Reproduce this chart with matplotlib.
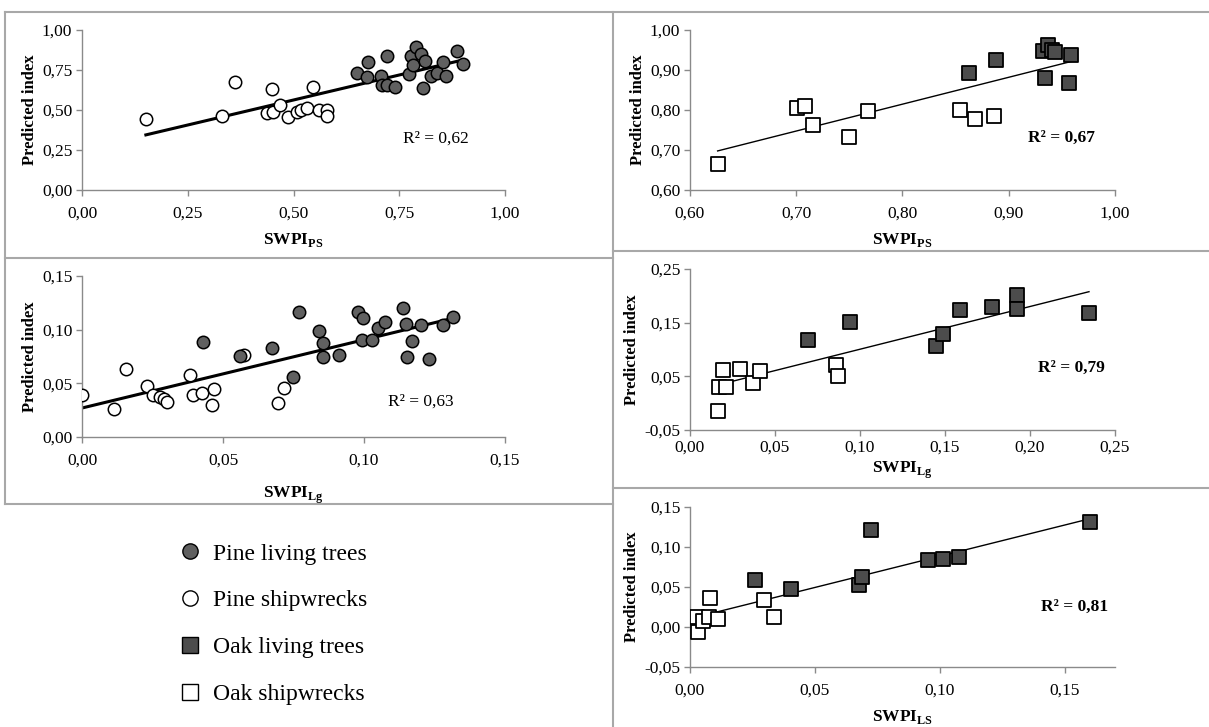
import numpy as np
import matplotlib
matplotlib.use("Agg")
import matplotlib.pyplot as plt
from matplotlib.lines import Line2D
from matplotlib.ticker import FuncFormatter

plt.rcParams['font.family'] = ['Liberation Serif', 'DejaVu Serif']
plt.rcParams['mathtext.fontset'] = 'custom'
plt.rcParams['mathtext.rm'] = 'Liberation Serif'
plt.rcParams['mathtext.bf'] = 'Liberation Serif:bold'
plt.rcParams['axes.unicode_minus'] = False

# ---- data ----
# Pine, SWPI_PS
pine_ps_wreck_x = [0.151, 0.331, 0.361, 0.449, 0.437, 0.452, 0.467, 0.486, 0.508, 0.517, 0.533, 0.547, 0.561, 0.579, 0.579]
pine_ps_wreck_y = [0.444, 0.463, 0.677, 0.629, 0.479, 0.490, 0.531, 0.454, 0.485, 0.500, 0.515, 0.642, 0.500, 0.500, 0.463]
pine_ps_live_x = [0.651, 0.673, 0.677, 0.706, 0.709, 0.720, 0.720, 0.740, 0.772, 0.777, 0.782, 0.790,
                  0.801, 0.811, 0.807, 0.824, 0.839, 0.853, 0.861, 0.886, 0.900]
pine_ps_live_y = [0.733, 0.708, 0.802, 0.713, 0.656, 0.838, 0.656, 0.642, 0.725, 0.838, 0.781, 0.892,
                  0.850, 0.806, 0.635, 0.713, 0.729, 0.802, 0.713, 0.871, 0.788]
pine_ps_trend = (0.625, 0.250)   # slope, intercept
pine_ps_r2 = "R² = 0,62"

# Pine, SWPI_Lg
pine_lg_wreck_x = [0.000, 0.0112, 0.0156, 0.023, 0.0252, 0.0275, 0.029, 0.030, 0.0384, 0.0393,
                   0.0425, 0.0467, 0.046, 0.0575, 0.0694, 0.0718]
pine_lg_wreck_y = [0.0395, 0.0265, 0.0635, 0.0476, 0.0389, 0.0373, 0.0358, 0.0327, 0.0576, 0.0389,
                   0.0414, 0.0451, 0.030, 0.076, 0.032, 0.046]
pine_lg_live_x = [0.0428, 0.0561, 0.0673, 0.0748, 0.0771, 0.0839, 0.0854, 0.0854, 0.091, 0.0977,
                  0.0998, 0.0992, 0.1028, 0.1051, 0.1075, 0.114, 0.1149, 0.1154, 0.1169, 0.1201,
                  0.1232, 0.1279, 0.1317]
pine_lg_live_y = [0.0887, 0.0753, 0.0825, 0.056, 0.116, 0.0987, 0.088, 0.0747, 0.0762, 0.1167,
                  0.111, 0.0903, 0.0903, 0.1012, 0.1074, 0.1198, 0.1049, 0.0747, 0.0893, 0.1043,
                  0.0731, 0.1043, 0.112]
pine_lg_trend = (0.636, 0.027)
pine_lg_r2 = "R² = 0,63"

# Oak, SWPI_PS
oak_ps_wreck_x = [0.626, 0.701, 0.708, 0.716, 0.750, 0.768, 0.854, 0.868, 0.886]
oak_ps_wreck_y = [0.665, 0.804, 0.810, 0.7625, 0.733, 0.7975, 0.800, 0.7775, 0.786]
oak_ps_live_x = [0.863, 0.888, 0.932, 0.937, 0.941, 0.944, 0.934, 0.957, 0.959]
oak_ps_live_y = [0.893, 0.925, 0.948, 0.9625, 0.950, 0.946, 0.879, 0.868, 0.9375]
oak_ps_trend = (0.672, 0.277)
oak_ps_r2 = "R² = 0,67"

# Oak, SWPI_Lg
oak_lg_wreck_x = [0.0163, 0.0169, 0.0212, 0.0192, 0.0297, 0.0369, 0.0414, 0.086, 0.087]
oak_lg_wreck_y = [-0.014, 0.0307, 0.0307, 0.0618, 0.0637, 0.0382, 0.0606, 0.0711, 0.0506]
oak_lg_live_x = [0.0697, 0.0939, 0.1449, 0.1489, 0.1587, 0.1777, 0.1925, 0.1925, 0.2347]
oak_lg_live_y = [0.1177, 0.1506, 0.1065, 0.1283, 0.1736, 0.1798, 0.2016, 0.1748, 0.1674]
oak_lg_trend = (0.796, 0.0209)
oak_lg_r2 = "R² = 0,79"

# Oak, SWPI_LS
oak_ls_wreck_x = [0.0027, 0.0034, 0.0054, 0.008, 0.0076, 0.0111, 0.0295, 0.0335]
oak_ls_wreck_y = [0.0122, -0.0068, 0.0081, 0.0359, 0.0131, 0.0098, 0.0338, 0.0131]
oak_ls_live_x = [0.0261, 0.0406, 0.0677, 0.0688, 0.0724, 0.0954, 0.101, 0.1076, 0.1598]
oak_ls_live_y = [0.0587, 0.0471, 0.0525, 0.0629, 0.121, 0.0836, 0.0849, 0.0878, 0.1313]
oak_ls_trend = (0.781, 0.0104)
oak_ls_r2 = "R² = 0,81"

legend_labels = ["Pine living trees", "Pine shipwrecks", "Oak living trees", "Oak shipwrecks"]

# ---- styles ----
W, H = 1209, 727
AXIS_GRAY = '#8a8a8a'
FRAME_GRAY = '#a8a8a8'
PINE_FILL = '#606060'
OAK_FILL = '#4c4c4c'

fig = plt.figure(figsize=(W / 100, H / 100), dpi=100)


def px_axes(l, r, t, b):
    return fig.add_axes([l / W, 1 - b / H, (r - l) / W, (b - t) / H])


def comma(v, pos):
    return f"{v:.2f}".replace('.', ',')


def style(ax, xlim, xticks, ylim, yticks, xlabel, xpad=7, tpad=7):
    ax.set_xlim(*xlim)
    ax.set_ylim(*ylim)
    ax.set_xticks(xticks)
    ax.set_yticks(yticks)
    ax.xaxis.set_major_formatter(FuncFormatter(comma))
    ax.yaxis.set_major_formatter(FuncFormatter(comma))
    for s in ['top', 'right']:
        ax.spines[s].set_visible(False)
    for s in ['left', 'bottom']:
        ax.spines[s].set_color(AXIS_GRAY)
        ax.spines[s].set_linewidth(1.0)
    ax.tick_params(direction='out', length=4, width=1, color=AXIS_GRAY, labelsize=12.5)
    ax.tick_params(axis='x', pad=tpad)
    ax.tick_params(axis='y', pad=3)
    ax.set_ylabel("Predicted index", fontsize=12, fontweight='bold', labelpad=3)
    ax.set_xlabel(xlabel, fontsize=12.5, labelpad=xpad)
    ax.patch.set_alpha(0)


def trend(ax, xs, coef, lw):
    x0, x1 = min(xs), max(xs)
    xx = np.array([x0, x1])
    ax.plot(xx, coef[0] * xx + coef[1], color='black', lw=lw, zorder=1)


# left top: pine PS
ax1 = px_axes(82, 505, 30, 190)
ax1.scatter(pine_ps_wreck_x, pine_ps_wreck_y, s=80, marker='o', facecolor='white', edgecolor='black', lw=1.1, zorder=3)
ax1.scatter(pine_ps_live_x, pine_ps_live_y, s=80, marker='o', facecolor=PINE_FILL, edgecolor='black', lw=1.1, zorder=3)
trend(ax1, pine_ps_wreck_x + pine_ps_live_x, pine_ps_trend, 2.2)
style(ax1, (0, 1), [0, 0.25, 0.5, 0.75, 1.0], (0, 1), [0, 0.25, 0.5, 0.75, 1.0], r"$\mathbf{SWPI}_{\mathbf{PS}}$")
ax1.text(0.76, 0.32, pine_ps_r2, transform=ax1.transAxes, fontsize=12.5, va='center')

# left middle: pine Lg
ax2 = px_axes(82, 505, 276, 437)
ax2.scatter(pine_lg_wreck_x, pine_lg_wreck_y, s=80, marker='o', facecolor='white', edgecolor='black', lw=1.1, zorder=3)
ax2.scatter(pine_lg_live_x, pine_lg_live_y, s=80, marker='o', facecolor=PINE_FILL, edgecolor='black', lw=1.1, zorder=3)
trend(ax2, pine_lg_wreck_x + pine_lg_live_x, pine_lg_trend, 2.2)
style(ax2, (0, 0.15), [0, 0.05, 0.10, 0.15], (0, 0.15), [0, 0.05, 0.10, 0.15], r"$\mathbf{SWPI}_{\mathbf{Lg}}$", xpad=12)
ax2.text(0.723, 0.217, pine_lg_r2, transform=ax2.transAxes, fontsize=12.5, va='center')

# right top: oak PS
ax3 = px_axes(690, 1115, 30, 190)
ax3.scatter(oak_ps_wreck_x, oak_ps_wreck_y, s=110, marker='s', facecolor='white', edgecolor='black', lw=1.3, zorder=3)
ax3.scatter(oak_ps_live_x, oak_ps_live_y, s=110, marker='s', facecolor=OAK_FILL, edgecolor='black', lw=1.3, zorder=3)
trend(ax3, oak_ps_wreck_x + oak_ps_live_x, oak_ps_trend, 1.0)
style(ax3, (0.6, 1.0), [0.6, 0.7, 0.8, 0.9, 1.0], (0.6, 1.0), [0.6, 0.7, 0.8, 0.9, 1.0], r"$\mathbf{SWPI}_{\mathbf{PS}}$")
ax3.text(0.795, 0.325, oak_ps_r2, transform=ax3.transAxes, fontsize=12.5, fontweight='bold', va='center')

# right middle: oak Lg
ax4 = px_axes(690, 1115, 269, 430)
ax4.scatter(oak_lg_wreck_x, oak_lg_wreck_y, s=110, marker='s', facecolor='white', edgecolor='black', lw=1.3, zorder=3)
ax4.scatter(oak_lg_live_x, oak_lg_live_y, s=110, marker='s', facecolor=OAK_FILL, edgecolor='black', lw=1.3, zorder=3)
trend(ax4, oak_lg_wreck_x + oak_lg_live_x, oak_lg_trend, 1.0)
style(ax4, (0, 0.25), [0, 0.05, 0.10, 0.15, 0.20, 0.25], (-0.05, 0.25), [-0.05, 0.05, 0.15, 0.25],
      r"$\mathbf{SWPI}_{\mathbf{Lg}}$", xpad=3, tpad=3)
ax4.text(0.819, 0.385, oak_lg_r2, transform=ax4.transAxes, fontsize=12.5, fontweight='bold', va='center')

# right bottom: oak LS
ax5 = px_axes(690, 1115, 507, 667)
ax5.scatter(oak_ls_wreck_x, oak_ls_wreck_y, s=110, marker='s', facecolor='white', edgecolor='black', lw=1.3, zorder=3)
ax5.scatter(oak_ls_live_x, oak_ls_live_y, s=110, marker='s', facecolor=OAK_FILL, edgecolor='black', lw=1.3, zorder=3)
trend(ax5, oak_ls_wreck_x + oak_ls_live_x, oak_ls_trend, 1.0)
style(ax5, (0, 0.17), [0, 0.05, 0.10, 0.15], (-0.05, 0.15), [-0.05, 0, 0.05, 0.10, 0.15], r"$\mathbf{SWPI}_{\mathbf{LS}}$", xpad=7)
ax5.text(0.826, 0.375, oak_ls_r2, transform=ax5.transAxes, fontsize=12.5, fontweight='bold', va='center')

# panel frames
def hline(y, x0, x1):
    fig.add_artist(Line2D([x0 / W, x1 / W], [1 - y / H, 1 - y / H], color=FRAME_GRAY, lw=1.5))


def vline(x, y0, y1):
    fig.add_artist(Line2D([x / W, x / W], [1 - y0 / H, 1 - y1 / H], color=FRAME_GRAY, lw=1.5))


hline(12, 5, 1209)
hline(258, 5, 613)
hline(504, 5, 613)
hline(251, 613, 1209)
hline(488, 613, 1209)
vline(5, 12, 504)
vline(613, 12, 727)

# legend
handles = [
    Line2D([], [], ls='none', marker='o', ms=11, mfc=PINE_FILL, mec='black', mew=1),
    Line2D([], [], ls='none', marker='o', ms=11, mfc='white', mec='black', mew=1),
    Line2D([], [], ls='none', marker='s', ms=11, mfc=OAK_FILL, mec='black', mew=1),
    Line2D([], [], ls='none', marker='s', ms=11, mfc='white', mec='black', mew=1),
]
fig.legend(handles, legend_labels, loc='upper left', bbox_to_anchor=(178 / W, 1 - 543 / H),
           frameon=False, fontsize=17, labelspacing=1.07, handletextpad=0.5, handlelength=1.0,
           borderpad=0, borderaxespad=0)

fig.savefig("out.png", dpi=100)
